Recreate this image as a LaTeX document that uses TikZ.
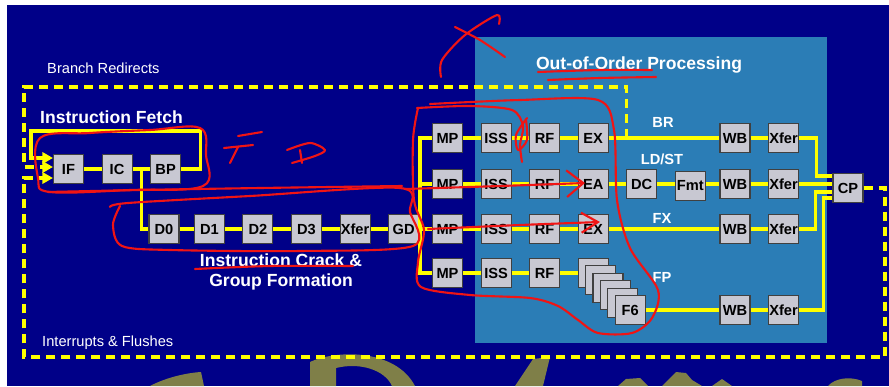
\documentclass[tikz,border=0pt]{standalone}
\usepackage{fontspec}
\setsansfont{Liberation Sans}
\usetikzlibrary{arrows.meta,calc,positioning}
\definecolor{slidebg}{HTML}{000088}
\definecolor{oooblue}{HTML}{2B7DB6}
\definecolor{busyellow}{HTML}{FFFF00}
\definecolor{boxgray}{HTML}{C8C8D2}
\definecolor{inkred}{HTML}{F01414}
\definecolor{ghost}{HTML}{7F7F48}

\begin{document}
\begin{tikzpicture}[x=0.3mm, y=-0.3mm, node distance=5.25mm,
  stage/.style={draw=black!75, fill=boxgray, line width=0.9pt, minimum width=9mm, minimum height=8.7mm, inner sep=0pt, font=\sffamily\bfseries\fontsize{12.5}{14}\selectfont},
  bus/.style={draw=busyellow, line width=2.6pt},
  flush/.style={draw=busyellow, line width=2.6pt, dash pattern=on 2.7mm off 1.8mm},
  feed/.style={-{Triangle[length=3.2mm,width=3.4mm]}},
  heading/.style={text=white, inner sep=0pt, align=center, font=\sffamily\bfseries\fontsize{15}{17.5}\selectfont},
  lane/.style={text=white, inner sep=0pt, font=\sffamily\bfseries\fontsize{12.5}{15}\selectfont},
  remark/.style={text=white, inner sep=0pt, font=\sffamily\fontsize{12.5}{15}\selectfont},
  scribble/.style={draw=inkred, line width=1.8pt, line cap=round, line join=round}]
  \useasboundingbox (0,0) rectangle (889,386);
  \fill[white] (0,0) rectangle (889,386);
  \fill[slidebg] (7,5) rectangle (889,386);
  % letters of the slide behind, cut off at the bottom
  \fill[ghost] (150,386) .. controls (165,378) and (185,373) .. (201,372) -- (204,386) -- cycle;
  \fill[ghost] (310,386) -- (310,362) .. controls (335,350) and (395,348) .. (415,386) -- (392,386) .. controls (385,370) and (360,362) .. (336,368) -- (336,386) -- cycle;
  \fill[ghost] (515,386) -- (533,359) -- (550,357) -- (543,386) -- cycle;
  \fill[ghost] (618,386) -- (626,379) -- (640,378) -- (648,386) -- cycle;
  \fill[ghost] (662,386) -- (676,372) -- (686,373) -- (692,380) -- (702,386) -- cycle;
  \fill[ghost] (712,386) -- (722,379) -- (732,386) -- cycle;
  \fill[ghost] (828,386) .. controls (835,378) and (850,376) .. (862,381) -- (862,386) -- cycle;
  \fill[oooblue] (475,37) rectangle (827,343);

  \node[remark,anchor=west] (brlbl) at (47,68) {Branch Redirects};
  \node[remark,anchor=west] (intlbl) at (42,343) {Interrupts \& Flushes};
  \node[heading,anchor=west] (fetchlbl) at (40,117) {Instruction Fetch};
  \node[heading] (cracklbl) at (281,272) {Instruction Crack \&\\Group Formation};
  \node[heading] (ooolbl) at (639,65) {Out-of-Order Processing};

  % fetch
  \node[stage] (if) at (68.5,169) {IF};
  \node[stage,right=of if] (ic) {IC};
  \node[stage,right=of ic] (bp) {BP};

  % crack and group
  \node[stage] (d0) at (164,229) {D0};
  \node[stage,right=4.3mm of d0] (d1) {D1};
  \node[stage,right=of d1] (d2) {D2};
  \node[stage,right=of d2] (d3) {D3};
  \node[stage,right=of d3] (xfd) {Xfer};
  \node[stage,right=of xfd] (gd) {GD};

  % out of order lanes
  \node[stage] (mp1) at (447.5,138) {MP};
  \node[stage,right=of mp1] (iss1) {ISS};
  \node[stage,right=of iss1] (rf1) {RF};
  \node[stage,right=of rf1] (ex1) {EX};
  \node[stage] (wb1) at (735,138) {WB};
  \node[stage,right=of wb1] (xf1) {Xfer};

  \node[stage] (mp2) at (447.5,184) {MP};
  \node[stage,right=of mp2] (iss2) {ISS};
  \node[stage,right=of iss2] (rf2) {RF};
  \node[stage,right=of rf2] (ea) {EA};
  \node[stage,right=of ea] (dc) {DC};
  \node[stage,right=of dc,yshift=-0.6mm] (fmt) {Fmt};
  \node[stage] (wb2) at (wb1 |- mp2) {WB};
  \node[stage,right=of wb2] (xf2) {Xfer};

  \node[stage] (mp3) at (447.5,229) {MP};
  \node[stage,right=of mp3] (iss3) {ISS};
  \node[stage,right=of iss3] (rf3) {RF};
  \node[stage,right=of rf3] (ex3) {EX};
  \node[stage] (wb3) at (wb1 |- mp3) {WB};
  \node[stage,right=of wb3] (xf3) {Xfer};

  \node[stage] (mp4) at (447.5,273) {MP};
  \node[stage,right=of mp4] (iss4) {ISS};
  \node[stage,right=of iss4] (rf4) {RF};
  \node[stage] (f1) at (ex3 |- mp4) {};
  \foreach \k [count=\j from 1] in {2,...,5}
    \node[stage] (f\k) at ($(f\j)+(7.4,7.4)$) {};
  \node[stage] (f6) at ($(f5)+(7.4,7.4)$) {F6};
  \node[stage] (wb4) at (wb1 |- f6) {WB};
  \node[stage,right=of wb4] (xf4) {Xfer};

  \node[stage] (cp) at (848,188) {CP};

  \node[lane] (brtxt) at (663,122) {BR};
  \node[lane] (ldsttxt) at (662,159) {LD/ST};
  \node[lane] (fxtxt) at (662,218) {FX};
  \node[lane] (fptxt) at (662,277) {FP};

  % redirect and flush paths
  \coordinate (brtap) at ($(ex1.east)+(18,0)$);
  \draw[flush,feed] (brtap) |- (24,87) |- ($(if.west)+(0,-2)$);
  \draw[flush,feed] (cp.east) -| (885,357) -| (24,178) -- ($(if.west)+(0,9)$);

  % fetch loop
  \draw[bus,feed] (bp.east) -- ++(19,0) |- (31,131) |- ($(if.west)+(0,-11)$);
  \draw[bus] (if) -- (ic) -- (bp);
  \coordinate (split) at ($(ic.east)!0.5!(bp.west)$);
  \draw[bus] (split) |- (d0.west);
  \draw[bus] (d0) -- (d1) -- (d2) -- (d3) -- (xfd) -- (gd) -- (mp3);

  % dispatch bus
  \coordinate (bustop) at ($(mp1.west)+(-12,0)$);
  \draw[bus] (mp1.west) -- (bustop) -- (bustop |- mp4.west) -- (mp4.west);
  \draw[bus] (bustop |- mp2.west) -- (mp2.west);

  % lanes
  \draw[bus] (mp1) -- (iss1) -- (rf1) -- (ex1) -- (wb1) -- (xf1);
  \draw[bus] (xf1.east) -- ++(17,0) |- ($(cp.west)+(0,-12)$);
  \draw[bus] (mp2) -- (iss2) -- (rf2) -- (ea) -- (dc);
  \draw[bus] (dc.east) -- (dc.east -| fmt.west);
  \draw[bus] (fmt.east |- wb2.west) -- (wb2.west);
  \draw[bus] (wb2) -- (xf2) -- ($(cp.west)+(0,-4)$);
  \draw[bus] (mp3) -- (iss3) -- (rf3) -- (ex3) -- (wb3) -- (xf3);
  \draw[bus] (xf3.east) -- ++(16,0) |- ($(cp.west)+(0,4)$);
  \draw[bus] (mp4) -- (iss4) -- (rf4) -- (f1);
  \draw[bus] (f6) -- (wb4) -- (xf4);
  \draw[bus] (xf4.east) -- ++(24,0) |- ($(cp.west)+(0,10)$);

  % pen marks
  \draw[scribble] plot[smooth cycle, tension=0.6] coordinates {(40,138) (90,133) (150,130) (200,128) (206,155) (203,186) (130,190) (50,192) (38,178)};
  \draw[scribble] plot[smooth] coordinates {(48,192) (140,190) (260,188) (402,186)};
  \draw[scribble] plot[smooth] coordinates {(110,207) (128,203) (250,196) (400,188) (410,212) (413,246) (300,251) (170,250) (122,246) (113,225) (120,206)};
  \draw[scribble] (238,136) -- (262,132);
  \draw[scribble] (224,148) -- (253,145);
  \draw[scribble] (238,147) -- (230,163);
  \draw[scribble] plot[smooth] coordinates {(287,150) (310,143) (325,150) (315,156) (292,163)};
  \draw[scribble] (300,150) -- (302,163);
  \draw[scribble] plot[smooth] coordinates {(195,269) (270,266) (353,266)};
  \draw[scribble] plot[smooth] coordinates {(455,27) (480,40) (505,57)};
  \draw[scribble] plot[smooth] coordinates {(441,77) (442,60) (465,35) (497,15) (499,24)};
  \draw[scribble] plot[smooth] coordinates {(538,72) (600,70) (652,70)};
  \draw[scribble] plot[smooth] coordinates {(548,80) (600,78) (656,77)};
  \draw[scribble] plot[smooth] coordinates {(417,108) (470,106) (512,110) (523,126) (520,145) (522,162)};
  \draw[scribble] plot[smooth] coordinates {(527,118) (516,135) (518,150) (527,140) (526,120)};
  \draw[scribble] plot[smooth] coordinates {(430,104) (520,100) (598,100) (614,130) (617,200) (630,248) (658,290) (652,318) (632,333) (598,333) (578,320) (558,306) (530,298) (470,295) (421,287) (418,262) (424,230) (414,200) (413,140) (418,108)};
  \draw[scribble,-{Straight Barb[length=5mm,width=8mm]}] plot[smooth] coordinates {(405,189) (500,186) (585,183)};
  \draw[scribble,-{Straight Barb[length=5mm,width=6mm]}] plot[smooth] coordinates {(428,229) (520,225) (600,222)};
\end{tikzpicture}
\end{document}
